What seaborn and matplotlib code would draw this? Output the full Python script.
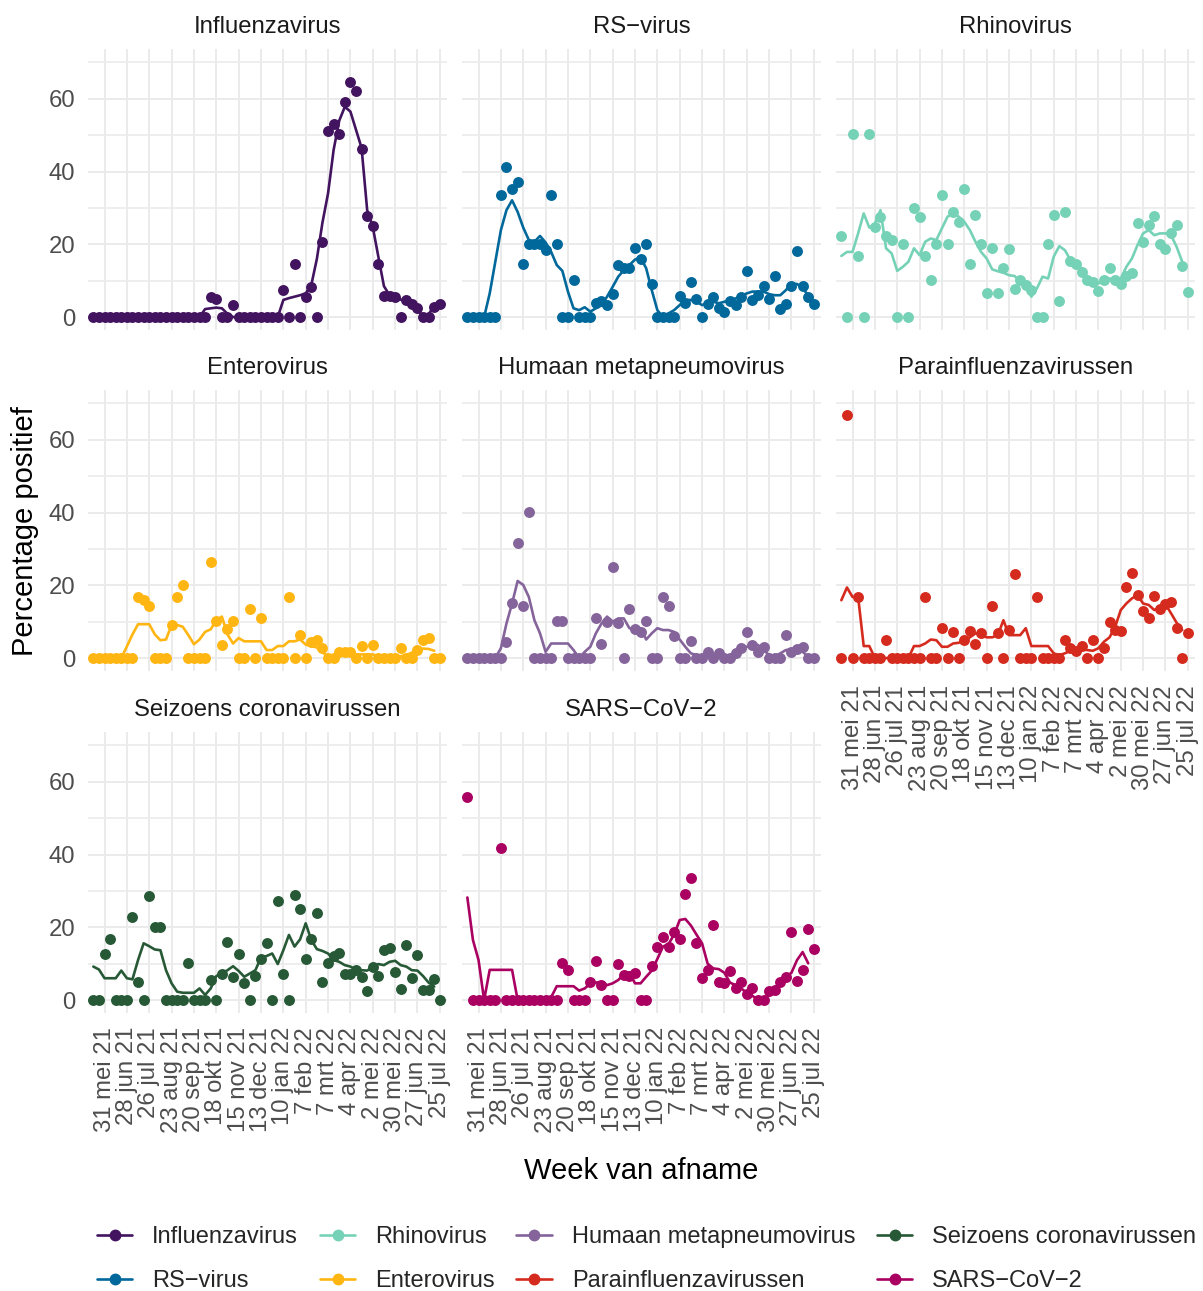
import numpy as np
import pandas as pd
import matplotlib
matplotlib.use('Agg')
import matplotlib.pyplot as plt
import matplotlib.dates as mdates
from matplotlib.lines import Line2D
import seaborn as sns

nan = np.nan

# weekly sample dates and axis breaks
weeks = pd.date_range('2021-05-17', periods=63, freq='7D')
tick_dates = pd.date_range('2021-05-31', periods=16, freq='28D')
tick_labels = ['31 mei 21', '28 jun 21', '26 jul 21', '23 aug 21', '20 sep 21',
               '18 okt 21', '15 nov 21', '13 dec 21', '10 jan 22', '7 feb 22',
               '7 mrt 22', '4 apr 22', '2 mei 22', '30 mei 22', '27 jun 22',
               '25 jul 22']

viruses = ['Influenzavirus', 'RS\u2212virus', 'Rhinovirus', 'Enterovirus',
           'Humaan metapneumovirus', 'Parainfluenzavirussen',
           'Seizoens coronavirussen', 'SARS\u2212CoV\u22122']
colors = ['#42145f', '#01689b', '#76d2b6', '#ffb612',
          '#84649a', '#d52b1e', '#275937', '#a90061']

# weekly percentage positive (points)
flu_pct = [0] * 21 + [5.4, 5.1, 0, 0, 3.3] + [0] * 8 + \
    [7.4, 0, 14.6, 0, 5.6, 8.3, 0, 20.5, 51.1, 53.0, 50.3, 59.1, 64.7, 62.2,
     46.1, 27.7, 25.1, 14.6, 5.9, 5.8, 5.4, 0, 4.7, 3.5, 2.4, 0, 0, 2.7, 3.6]
rsv_pct = [0, 0, 0, 0, 0, 0, 33.5, 41.3, 35.1, 37.0, 14.5, 20.2, 20.2, 20.0,
           18.4, 33.5, 20.0, 0, 0, 10.2, 0, 0, 0, 3.8, 4.5, 3.3, 6.3, 14.3,
           13.4, 13.6, 18.9, 15.9, 20.0, 9.1, 0, 0, 0, 0, 5.8, 4.0, 9.7, 5.1,
           0, 3.6, 5.4, 2.4, 1.5, 4.5, 3.3, 5.4, 12.7, 4.7, 6.0, 8.6, 5.1,
           11.3, 2.1, 3.5, 8.6, 18.1, 8.6, 5.6, 3.6]
rhino_pct = [22.3, 0, 50.3, 16.8, 0, 50.3, 24.8, 27.4, 22.3, 21.2, 0, 20.1,
             0, 30.1, 27.4, 16.8, 10.2, 20.1, 33.5, 20.1, 28.9, 26.2, 35.2,
             14.6, 28.0, 20.1, 6.5, 19.1, 6.7, 13.4, 18.6, 7.7, 10.2, 8.8, 7.4,
             0, 0, 20.1, 28.0, 4.4, 28.8, 15.5, 14.7, 12.3, 10.2, 9.5, 7.1,
             10.3, 13.4, 10.3, 9.2, 11.4, 12.0, 25.9, 20.5, 25.3, 27.8, 20.1,
             18.7, 23.2, 25.3, 14.1, 7.0]
entero_pct = [0] * 8 + [16.7, 15.9, 14.3, 0, 0, 0, 9.1, 16.7, 20.2, 0, 0, 0, 0,
              26.3, 10.2, 3.6, 7.9, 10.2, 0, 0, 13.4, 0, 11.1, 0, 0, 0, 0,
              16.7, 0, 6.3, 0, 4.5, 5.1, 2.9, 0, 0, 1.7, 1.7, 1.7, 0, 3.3, 0,
              3.6, 0, 0, 0, 0, 2.9, 0, 0, 2.2, 5.1, 5.6, 0, 0]
hmpv_pct = [0] * 7 + [4.5, 15.0, 31.7, 14.3, 40.2, 0, 0, 0, 0, 10.2, 10.2,
            0, 0, 0, 0, 0, 10.9, 4.0, 10.0, 25.1, 9.5, 0, 13.5, 7.9, 7.2, 10.2,
            0, 0, 16.8, 14.3, 6.1, 0, 0, 4.8, 0, 0, 1.7, 0, 1.3, 0, 0, 1.3,
            2.7, 7.2, 3.6, 1.7, 3.1, 0, 0, 0, 6.3, 1.7, 2.4, 3.1, 0, 0]
para_pct = [0, 66.8, 0, 16.7, 0, 0, 0, 0, 5.1, 0, 0, 0, 0, 0, 0, 16.7, 0, 0,
            8.2, 0, 7.1, 0, 5.1, 7.4, 3.8, 6.8, 0, 14.3, 7.0, 0, 7.7, 23.1, 0,
            0, 0, 16.7, 0, 0, 0, 0, 4.9, 2.9, 2.0, 3.3, 0, 4.9, 0, 2.7, 10.0,
            7.7, 7.5, 19.4, 23.5, 17.3, 12.9, 10.9, 17.0, 13.6, 14.8, 15.5,
            8.2, 0, 7.0]
seiz_pct = [0, 0, 12.6, 16.8, 0, 0, 0, 22.9, 5.0, 0, 28.7, 20.1, 20.1, 0, 0,
            0, 0, 10.1, 0, 0, 0, 5.5, 0, 7.1, 16.0, 6.4, 12.6, 4.8, 0, 6.6,
            11.2, 15.6, 0, 27.3, 7.1, 0, 28.8, 24.9, 11.2, 16.7, 23.8, 5.0,
            10.3, 12.1, 13.0, 7.1, 7.1, 8.4, 6.4, 2.6, 9.2, 6.6, 13.7, 14.4,
            7.8, 3.0, 15.1, 6.2, 12.5, 2.7, 2.7, 5.8, 0]
sars_pct = [55.7, 0, 0, 0, 0, 0, 41.8] + [0] * 10 + \
    [10.3, 8.2, 0, 0, 0, 5.0, 10.8, 4.1, 0, 0, 9.9, 6.9, 6.6, 7.5, 0, 0, 9.3,
     14.7, 17.4, 14.7, 18.8, 16.7, 29.1, 33.6, 15.6, 6.2, 8.4, 20.6, 5.0, 4.6,
     8.1, 3.2, 5.0, 1.8, 3.2, 0, 0, 2.6, 2.9, 5.0, 6.4, 18.8, 5.2, 8.4, 19.5,
     13.9]

# smoothed trend (lines)
flu_trend = [0] * 20 + [2.2, 2.4, 2.6, 2.4, 0.9, 0] + [0] * 8 + \
    [4.7, 5.2, 5.6, 6.0, 6.5, 8.8, 16, 26, 34, 46, 54, 57.8, 56.5, 51.5, 46.5,
     29.4, 24.8, 16.6, 8.5, 6.0, 5.4, 4.8, 4.2, 2.9, 1.6, 0.6, 0.8, 3.0, 3.7]
rsv_trend = [0, 0, 0, 0, 6.5, 15.2, 23.9, 29.4, 32.1, 28.9, 24.6, 21.2, 20.7,
             22.3, 20.5, 17.9, 14.3, 12.7, 7.0, 2.4, 1.9, 2.7, 1.5, 2.4, 3.3,
             5.6, 8.3, 11.1, 12.9, 14.3, 15.8, 16.4, 13.4, 7.4, 1.9, 0, 1.0,
             1.9, 3.3, 4.7, 4.7, 4.2, 3.3, 3.8, 4.2, 3.8, 4.2, 4.7, 5.1, 5.8,
             6.5, 7.0, 7.0, 7.0, 6.3, 6.0, 6.0, 7.4, 9.1, 9.1, 7.9, 6.0, 3.8]
rhino_trend = [16.8, 17.9, 17.9, 23.0, 28.5, 24.6, 25.7, 29.4, 18.9, 17.5,
               12.7, 13.8, 15.2, 18.9, 17.0, 20.7, 21.6, 21.2, 24.4, 27.6,
               28.5, 27.6, 26.2, 23.9, 20.7, 17.9, 16.1, 13.1, 12.6, 12.2,
               11.5, 11.3, 9.7, 8.3, 5.6, 7.9, 11.1, 10.6, 16.6, 19.5,
               18.4, 15.7, 14.3, 13.4, 11.1, 10.2, 9.2, 10.3, 10.6, 10.2,
               10.6, 13.8, 16.1, 19.8, 23.0, 23.9, 22.5, 23.0, 23.0, 22.5,
               19.3, 15.2, nan]
entero_trend = [0] * 6 + [3.2, 6.5, 9.3, 9.3, 9.3, 6.5, 4.9, 5.1, 9.1, 9.1,
                8.6, 6.3, 3.8, 5.1, 7.2, 7.9, 10.4, 11.4, 6.5, 4.0, 5.5, 4.6,
                4.6, 4.6, 4.6, 2.2, 2.2, 3.3, 3.3, 4.6, 4.6, 5.1, 3.7, 3.3,
                2.9, 1.5, 0.5, 0.5, 1.5, 1.5, 1.5, 1.0, 1.0, 1.0, 1.0, 0.5,
                0.5, 0.5, 0.5, 0.5, 0.8, 1.5, 2.6, 2.6, 2.5, 2.0, nan]
hmpv_trend = [0] * 6 + [2.7, 9.5, 15.0, 21.2, 20.1, 16.8, 10.4, 6.8, 1.7, 4.0,
              4.0, 4.0, 4.0, 2.2, 0, 1.7, 3.1, 6.8, 9.5, 11.4, 10.0, 10.9,
              10.9, 8.2, 7.9, 8.2, 5.1, 6.8, 8.2, 7.7, 7.7, 7.2, 5.1, 3.1,
              1.3, 0.8, 0.8, 0.8, 0.4, 0.4, 0.4, 0.6, 1.3, 2.4, 3.1, 3.6, 3.6,
              2.2, 0.8, 0.4, 1.3, 2.2, 2.4, 2.4, 1.7, 0.4, nan]
para_trend = [15.9, 19.4, 16.8, 16.8, 3.3, 3.3, 0] + [0] * 6 + \
    [3.3, 3.3, 4.0, 5.1, 4.9, 3.1, 3.1, 4.0, 4.2, 4.9, 5.7, 6.8, 6.3, 5.7, 5.7,
     6.3, 10.4, 6.3, 6.3, 6.3, 8.2, 3.3, 3.3, 3.3, 3.3, 1.3, 0.8, 1.3, 2.0, 2.4,
     2.4, 2.2, 2.0, 2.7, 4.5, 5.7, 8.6, 13.2, 15.0, 16.4, 17.3, 15.0, 14.6,
     13.2, 14.1, 14.8, 12.3, 9.7, 7.7, nan]
seiz_trend = [9.2, 8.4, 6.0, 6.0, 6.0, 8.1, 6.0, 5.7, 11.0, 15.6,
              14.8, 13.9, 13.7, 8.2, 4.6, 2.3, 2.0, 2.0, 2.0, 3.2,
              1.4, 3.2, 6.6, 7.3, 8.2, 9.3, 8.0, 6.4, 7.3, 8.2,
              11.7, 12.1, 12.8, 9.9, 13.7, 17.9, 14.7, 16.7, 21.1, 16.5,
              14.0, 13.5, 12.8, 11.0, 10.5, 9.6, 9.2, 8.4, 8.2, 8.1,
              9.2, 9.9, 9.6, 10.5, 10.8, 9.6, 9.2, 8.2, 8.1, 6.6,
              4.8, 3.7, nan]
sars_trend = [28.2, 16.5, 11.0, 0, 8.3, 8.3, 8.3, 8.3, 8.3, 0,
              0, 0, 0, 0, 0, 0.8, 3.8, 3.8, 3.8, 3.8,
              2.6, 3.2, 4.5, 4.8, 5.0, 4.1, 4.6, 5.5, 7.1, 7.5,
              4.6, 4.6, 6.4, 8.1, 11.3, 14.7, 15.4, 18.0, 22.0, 22.3,
              20.5, 18.0, 15.6, 10.0, 8.7, 8.5, 7.5, 4.8, 4.1, 3.2,
              2.0, 1.2, 0, 0.2, 1.5, 2.5, 4.1, 6.4, 7.5, 11.0,
              13.2, 10.1, nan]

pct_series = [flu_pct, rsv_pct, rhino_pct, entero_pct,
              hmpv_pct, para_pct, seiz_pct, sars_pct]
trend_series = [flu_trend, rsv_trend, rhino_trend, entero_trend,
                hmpv_trend, para_trend, seiz_trend, sars_trend]

sns.set_theme(style='white')
plt.rcParams['font.family'] = ['Liberation Sans', 'DejaVu Sans']

FIG_W, FIG_H = 1203, 1291
fig = plt.figure(figsize=(FIG_W / 100, FIG_H / 100), dpi=100)
fig.patch.set_facecolor('white')

col_left = [88, 462, 836]
row_top = [49, 390, 732]
PW, PH = 359, 281

def px_box(left, top, w, h):
    return [left / FIG_W, 1 - (top + h) / FIG_H, w / FIG_W, h / FIG_H]

x_lo = mdates.date2num(pd.Timestamp('2021-05-10 07:00'))
x_hi = mdates.date2num(pd.Timestamp('2022-08-03'))
grid_col = '#ebebeb'

for i, (name, color) in enumerate(zip(viruses, colors)):
    r, c = divmod(i, 3)
    ax = fig.add_axes(px_box(col_left[c], row_top[r], PW, PH))
    df = pd.DataFrame({'week': weeks, 'pct': pct_series[i], 'trend': trend_series[i]})

    sns.lineplot(data=df, x='week', y='trend', ax=ax, color=color,
                 linewidth=1.9, zorder=3)
    sns.scatterplot(data=df, x='week', y='pct', ax=ax, color=color, s=62,
                    linewidth=0, zorder=4)

    ax.set_xlim(x_lo, x_hi)
    ax.set_ylim(-3.56, 73.7)
    ax.set_xticks(mdates.date2num(tick_dates))
    ax.set_yticks([0, 20, 40, 60])
    ax.set_yticks([10, 30, 50, 70], minor=True)
    ax.grid(which='major', color=grid_col, linewidth=1.4, zorder=0)
    ax.grid(which='minor', axis='y', color=grid_col, linewidth=1.2, zorder=0)
    ax.set_axisbelow(True)
    for s in ax.spines.values():
        s.set_visible(False)
    ax.set_xlabel('')
    ax.set_ylabel('')
    ax.tick_params(which='both', length=0)
    ax.tick_params(axis='y', pad=9.4, labelsize=17.2, labelcolor='#4d4d4d')

    if c != 0:
        ax.tick_params(labelleft=False)
    bottom_panel = (i + 3 >= len(viruses))
    if bottom_panel:
        ax.set_xticklabels(tick_labels, rotation=90, ha='center', va='top',
                           fontsize=17.2, color='#4d4d4d')
        ax.tick_params(axis='x', pad=10)
    else:
        ax.tick_params(labelbottom=False)

    # facet strip title
    ax.text(0.5, 1 + 22 / PH, name, transform=ax.transAxes, ha='center',
            va='center', fontsize=17.2, color='#1a1a1a')

fig.text(25 / FIG_W, 1 - 531 / FIG_H, 'Percentage positief', rotation=90,
         ha='center', va='center', fontsize=21, color='black')
fig.text(641 / FIG_W, 1 - 1171 / FIG_H, 'Week van afname',
         ha='center', va='center', fontsize=21, color='black')

handles = [Line2D([0], [0], color=col, lw=1.9, marker='o', markersize=7.5)
           for col in colors]
fig.legend(handles, viruses, ncol=4, loc='upper left',
           bbox_to_anchor=(97 / FIG_W, 1 - 1226 / FIG_H), frameon=False,
           fontsize=17, handlelength=1.5, handletextpad=0.84,
           columnspacing=0.92, labelspacing=0.95, borderpad=0,
           borderaxespad=0)

fig.savefig('out.png', dpi=100, facecolor='white')
